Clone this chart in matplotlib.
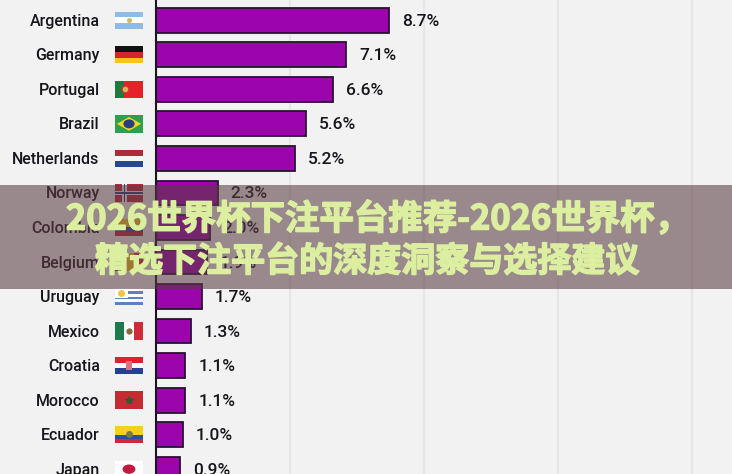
#-*- coding: utf-8 -*-
import matplotlib
matplotlib.use('Agg')
import matplotlib.pyplot as plt
import matplotlib.patheffects as pe
from matplotlib.patches import Rectangle, Polygon, Ellipse

# 数据
countries = ['Argentina', 'Germany', 'Portugal', 'Brazil', 'Netherlands', 'Norway', 'Colombia',
             'Belgium', 'Uruguay', 'Mexico', 'Croatia', 'Morocco', 'Ecuador', 'Japan']
shares = [8.7, 7.1, 6.6, 5.6, 5.2, 2.3, 2.0, 1.9, 1.7, 1.3, 1.1, 1.1, 1.0, 0.9]
grid_ticks = [0, 5, 10, 15, 20]
banner_lines = ['2026世界杯下注平台推荐-2026世界杯，', '精选下注平台的深度洞察与选择建议']

BG = '#f2f2f2'
BAR = '#9b05ab'
EDGE = '#2a1233'

# 国旗：横条 / 竖条颜色
h_stripes = {
    'Argentina': ['#8fbce6', '#ffffff', '#8fbce6'],
    'Germany': ['#111111', '#d8232a', '#f5c518'],
    'Netherlands': ['#ae2b38', '#f5f5f5', '#27478f'],
    'Colombia': ['#f6cf1c', '#f6cf1c', '#2a4f9c', '#c8213a'],
    'Uruguay': ['#ffffff', '#5a83c0', '#ffffff', '#5a83c0', '#ffffff', '#5a83c0'],
    'Croatia': ['#e0202f', '#ffffff', '#24408e'],
    'Ecuador': ['#f6d01c', '#f6d01c', '#2a4f9c', '#d0273a'],
    'Morocco': ['#c42b33'],
    'Brazil': ['#2f9e4f'],
    'Norway': ['#b8293b'],
    'Japan': ['#ffffff'],
}
v_stripes = {
    'Portugal': ['#1f7a3d', '#e8202a', '#e8202a'],
    'Belgium': ['#151515', '#f6d01c', '#e0303a'],
    'Mexico': ['#1d7a4c', '#ffffff', '#cf2b3b'],
}

fig = plt.figure(figsize=(7.32, 4.74), dpi=100, facecolor=BG)
ax = fig.add_axes([0, 0, 1, 1])
ax.set_facecolor(BG)
ax.set_xlim(-5.82, 21.49)
ax.set_ylim(13.14, -0.588)
ax.axis('off')

for t in grid_ticks[1:]:
    ax.axvline(t, color='#e6e6e6', lw=1.5, zorder=1)
ax.axvline(0, color='#1c1422', lw=1.5, zorder=4)

ax.barh(range(len(shares)), shares, height=0.72, color=BAR, edgecolor=EDGE, lw=1.3, zorder=3)

font = ['Roboto', 'DejaVu Sans']
for i, (name, val) in enumerate(zip(countries, shares)):
    ax.text(-2.10, i + 0.03, name, ha='right', va='center', fontsize=11.5, family=font,
            fontweight='medium', color='#15151c', zorder=5)
    ax.text(val + 0.48, i + 0.03, '%.1f%%' % val, ha='left', va='center', fontsize=12.5, family=font,
            fontweight='medium', color='#15151c', zorder=5)

# 画国旗
FX0, FX1 = -1.53, -0.485
FH = 0.5
for i, name in enumerate(countries):
    top = i - FH / 2
    if name in h_stripes:
        cols = h_stripes[name]
        for k, c in enumerate(cols):
            ax.add_patch(Rectangle((FX0, top + FH * k / len(cols)), FX1 - FX0, FH / len(cols),
                                   fc=c, ec='none', zorder=3))
    else:
        cols = v_stripes[name]
        w = (FX1 - FX0) / len(cols)
        for k, c in enumerate(cols):
            ax.add_patch(Rectangle((FX0 + w * k, top), w, FH, fc=c, ec='none', zorder=3))
    cx = (FX0 + FX1) / 2
    if name == 'Brazil':
        ax.add_patch(Polygon([(FX0 + 0.07, i), (cx, top + 0.05), (FX1 - 0.07, i), (cx, top + FH - 0.05)],
                             fc='#f4d51f', ec='none', zorder=4))
        ax.add_patch(Ellipse((cx, i), 0.42, 0.26, fc='#27407f', ec='none', zorder=5))
    elif name == 'Norway':
        ax.add_patch(Rectangle((FX0 + 0.28, top), 0.16, FH, fc='#f0f0f0', ec='none', zorder=4))
        ax.add_patch(Rectangle((FX0, i - 0.05), FX1 - FX0, 0.1, fc='#f0f0f0', ec='none', zorder=4))
        ax.add_patch(Rectangle((FX0 + 0.33, top), 0.06, FH, fc='#27407f', ec='none', zorder=5))
        ax.add_patch(Rectangle((FX0, i - 0.02), FX1 - FX0, 0.04, fc='#27407f', ec='none', zorder=5))
    elif name == 'Japan':
        ax.add_patch(Ellipse((cx, i), 0.48, 0.27, fc='#c2193f', ec='none', zorder=5))
    elif name == 'Morocco':
        ax.plot(cx, i, marker='*', ms=6, color='#2f5a34', zorder=5)
    elif name == 'Argentina':
        ax.plot(cx, i, marker='o', ms=2.5, color='#d9b45a', zorder=5)
    elif name == 'Portugal':
        ax.plot(FX0 + 0.39, i, marker='o', ms=5, mfc='#d9b45a', mec='#c33', zorder=5)
    elif name == 'Mexico':
        ax.plot(cx, i, marker='o', ms=3.5, color='#8a6a3a', zorder=5)
    elif name == 'Croatia':
        ax.add_patch(Rectangle((cx - 0.1, i - 0.13), 0.2, 0.27, fc='#d9737c', ec='none', zorder=5))
    elif name == 'Ecuador':
        ax.plot(cx, i - 0.02, marker='o', ms=4, color='#6f7f45', zorder=5)
    elif name == 'Uruguay':
        ax.add_patch(Rectangle((FX0, top), 0.48, 0.28, fc='#ffffff', ec='none', zorder=4))
        ax.plot(FX0 + 0.24, top + 0.14, marker='o', ms=4, color='#eec643', zorder=5)

# 半透明横幅和标题
fig.add_artist(Rectangle((0, 185 / 474), 1, 104 / 474, transform=fig.transFigure,
                         fc='#5a3b42', ec='none', alpha=0.58, zorder=10))
cjk = ['Noto Sans CJK SC', 'DejaVu Sans']
heavy = [pe.withStroke(linewidth=1.1, foreground='#dcefa0')]
fig.text(378 / 732, 1 - 219 / 474, banner_lines[0], ha='center', va='center', fontsize=24.8,
         family=cjk, fontweight='bold', color='#dcefa0', zorder=11, path_effects=heavy)
fig.text(367 / 732, 1 - 261 / 474, banner_lines[1], ha='center', va='center', fontsize=24.5,
         family=cjk, fontweight='bold', color='#dcefa0', zorder=11, path_effects=heavy)

fig.savefig('out.png', dpi=100, facecolor=BG)
